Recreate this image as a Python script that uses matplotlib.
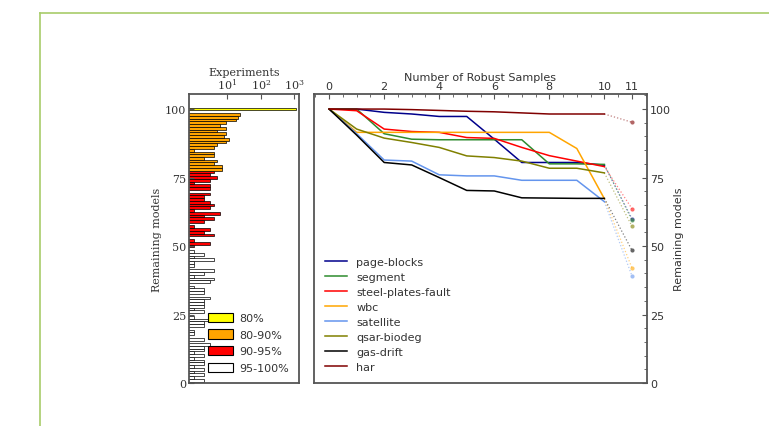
import numpy as np
import matplotlib
matplotlib.use("Agg")
import matplotlib.pyplot as plt
from matplotlib.lines import Line2D
from matplotlib.patches import Patch
from matplotlib.ticker import MultipleLocator

# experiments needed per number of remaining models (index = remaining models 0..100)
remaining = list(range(101))
experiments = [
    1, 2, 1, 2, 1, 2, 1, 2, 2, 1,    # 0-9
    2, 1, 2, 2, 3, 0, 2, 0, 1, 1,    # 10-19
    0, 2, 2, 3, 1, 0, 2, 1, 2, 2,    # 20-29
    2, 3, 0, 2, 2, 1, 0, 3, 4, 1,    # 30-39
    2, 4, 0, 1, 1, 4, 1, 2, 1, 0,    # 40-49
    1, 3, 1, 0, 4, 2, 3, 1, 0, 2,    # 50-59
    4, 2, 6, 1, 3, 4, 3, 2, 2, 3,    # 60-69
    0, 3, 3, 1, 3, 5, 3, 4, 7, 7,    # 70-79
    4, 5, 2, 4, 4, 1, 4, 5, 9, 11,   # 80-89
    8, 9, 5, 9, 6, 9, 18, 20, 23, 0, # 90-99
    1100,                            # 100
]
band_labels = ["80%", "80-90%", "90-95%", "95-100%"]
band_colors = ["yellow", "orange", "red", "white"]

# robust-sample curves: steps 0..10 measured, step 11 projected
steps = list(range(11))
datasets = ["page-blocks", "segment", "steel-plates-fault", "wbc",
            "satellite", "qsar-biodeg", "gas-drift", "har"]
page_blocks = [100, 100, 98.8, 98.2, 97.3, 97.3, 89, 80.5, 80.5, 80.5, 79.5]
segment = [100, 100, 91, 89, 88.8, 88.8, 88.8, 88.8, 80, 80, 79.8]
steel_plates = [100, 99.4, 92.7, 91.8, 91.5, 89.6, 89.3, 86, 83, 81, 79]
wbc = [100, 91.5, 91.5, 91.5, 91.5, 91.5, 91.5, 91.5, 91.5, 85.6, 67.3]
satellite = [100, 91, 81.4, 81, 76, 75.6, 75.6, 74, 74, 74, 66.2]
qsar_biodeg = [100, 92.7, 89.4, 87.8, 86, 82.9, 82.3, 81, 78.4, 78.4, 76.7]
gas_drift = [100, 90.5, 80.5, 79.6, 75, 70.3, 70.1, 67.6, 67.5, 67.4, 67.4]
har = [100, 100, 100, 99.8, 99.5, 99.2, 99, 98.6, 98.2, 98.2, 98.2]
projected = [60, 59.5, 63.7, 42.1, 39.2, 57.3, 48.5, 95.2]
curves = [page_blocks, segment, steel_plates, wbc, satellite, qsar_biodeg, gas_drift, har]
curve_colors = ["darkblue", "#2e8b2e", "red", "orange",
                "cornflowerblue", "olive", "black", "maroon"]

W, H = 769, 427
fig = plt.figure(figsize=(W / 100, H / 100), dpi=100)

# page frame
fig.add_artist(Line2D([40 / W, 1], [1 - 13.5 / H] * 2, color="#a8cc6a", lw=1.2,
                      transform=fig.transFigure))
fig.add_artist(Line2D([40 / W] * 2, [0, 1 - 13.5 / H], color="#a8cc6a", lw=1.2,
                      transform=fig.transFigure))

spine_col = "#555555"
serif = "DejaVu Serif"

# ---- left: experiments per remaining-model count ----
axL = fig.add_axes([189 / W, (H - 384) / H, 110 / W, 289 / H])


def band_of(y):
    if y == 100:
        return 0
    if y >= 78:
        return 1
    if y >= 50:
        return 2
    return 3


cols = [band_colors[band_of(y)] for y in remaining]
axL.barh(remaining, experiments, height=1.0, color=cols, edgecolor="black",
         linewidth=0.5, log=True)
axL.set_xscale("log")
axL.set_xlim(0.7, 1400)
axL.set_ylim(0, 105.5)
axL.set_yticks([0, 25, 50, 75, 100])
axL.xaxis.tick_top()
axL.xaxis.set_label_position("top")
axL.set_xticks([10, 100, 1000])
axL.tick_params(which="both", direction="in", labelsize=8, colors=spine_col,
                labelcolor="#333333", pad=2)
for lab in axL.get_xticklabels() + axL.get_yticklabels():
    lab.set_family(serif)
axL.set_xlabel("Experiments", fontsize=8, family=serif, color="#333333", labelpad=1)
axL.set_ylabel("Remaining models", fontsize=8, family=serif, color="#333333", labelpad=2)
for sp in axL.spines.values():
    sp.set_color(spine_col)
    sp.set_linewidth(1.3)
handles = [Patch(facecolor=c, edgecolor="black", linewidth=0.8) for c in band_colors]
axL.legend(handles, band_labels, loc="lower right", frameon=False, fontsize=8,
           handlelength=2.2, handleheight=0.9, handletextpad=0.6, labelspacing=0.55,
           borderaxespad=0.5, labelcolor="#333333")

# ---- right: remaining models vs robust samples ----
axR = fig.add_axes([314 / W, (H - 384) / H, 333 / W, 289 / H])
for name, ys, last, c in zip(datasets, curves, projected, curve_colors):
    axR.plot(steps, ys, color=c, lw=1.1, label=name)
    axR.plot([steps[-1], 11], [ys[-1], last], color=c, lw=0.9, ls=":", alpha=0.5)
    axR.plot([11], [last], "o", color=c, ms=3, alpha=0.6, mec="none")
axR.set_xlim(-0.55, 11.55)
axR.set_ylim(0, 105.5)
axR.xaxis.tick_top()
axR.xaxis.set_label_position("top")
axR.set_xticks([0, 2, 4, 6, 8, 10, 11])
axR.xaxis.set_minor_locator(MultipleLocator(0.5))
axR.yaxis.tick_right()
axR.yaxis.set_label_position("right")
axR.set_yticks([0, 25, 50, 75, 100])
axR.yaxis.set_minor_locator(MultipleLocator(5))
axR.tick_params(which="both", direction="in", labelsize=8, colors=spine_col,
                labelcolor="#333333", pad=2)
axR.tick_params(which="minor", length=2)
axR.set_xlabel("Number of Robust Samples", fontsize=8, color="#333333", labelpad=1)
axR.set_ylabel("Remaining models", fontsize=8, color="#333333", labelpad=2)
for sp in axR.spines.values():
    sp.set_color(spine_col)
    sp.set_linewidth(1.3)
axR.legend(loc="lower left", frameon=False, fontsize=8, handlelength=2.0,
           labelspacing=0.45, borderaxespad=0.6, labelcolor="#333333")

fig.savefig("out.png", dpi=100)
